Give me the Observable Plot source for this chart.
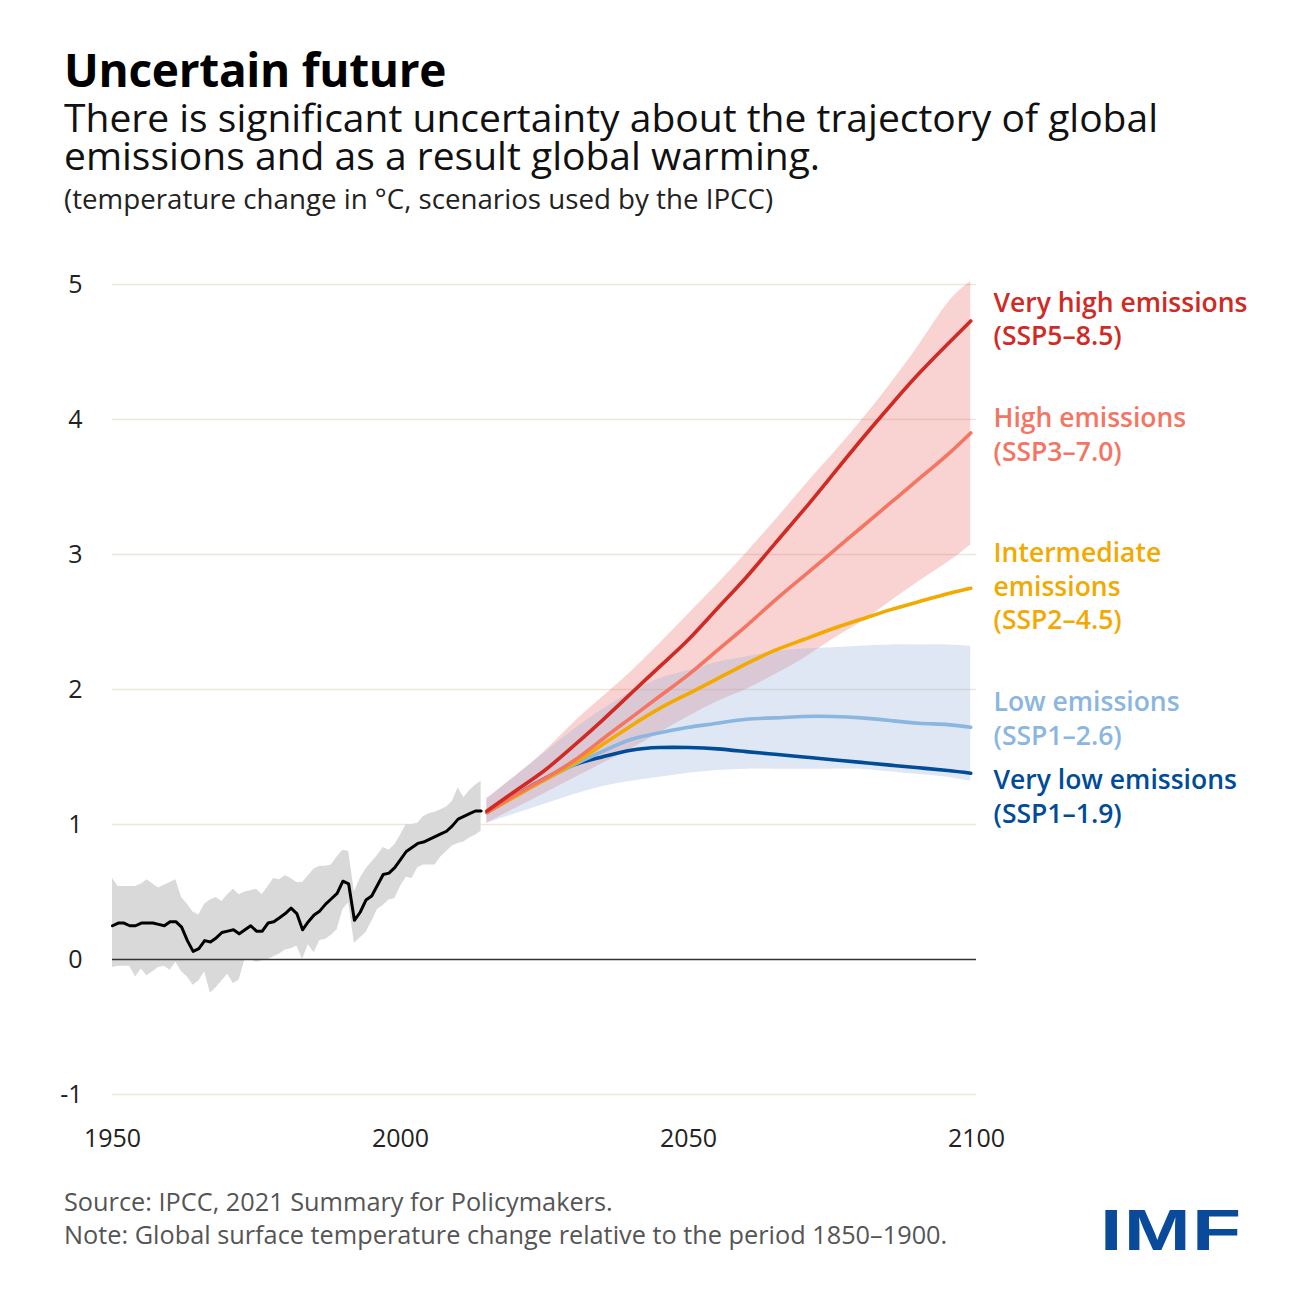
<!DOCTYPE html>
<html>
<head>
<meta charset="utf-8">
<script src="https://cdn.jsdelivr.net/npm/d3@7"></script>
<script src="https://cdn.jsdelivr.net/npm/@observablehq/plot@0.6"></script>
<style>
  body { margin: 0; background: #fff; font-family: "Open Sans", Lato, sans-serif; color: #111; }
  #page { position: relative; width: 1300px; height: 1300px; overflow: hidden; background: #fff; }
  #title { position: absolute; left: 64px; top: 46px; font-size: 46px; font-weight: 700; line-height: 46px; color: #000; white-space: nowrap; letter-spacing: -0.3px; }
  #subtitle { position: absolute; left: 64px; top: 98px; font-size: 39px; line-height: 38px; color: #111; white-space: nowrap; }
  #unit { position: absolute; left: 64px; top: 183px; font-size: 27.7px; line-height: 30px; color: #222; white-space: nowrap; }
  #chart { position: absolute; left: 0; top: 240px; }
  #foot { position: absolute; left: 64px; top: 1185px; font-size: 25.3px; line-height: 33px; color: #555; white-space: nowrap; }
  #logo { position: absolute; left: 1100px; top: 1200px; font-family: "Liberation Sans", Arial, sans-serif; font-weight: 700; font-size: 57px; line-height: 60px; color: #0a4a9b; transform: scaleX(1.41); transform-origin: left top; letter-spacing: 1px; }
</style>
</head>
<body>
<div id="page">
  <div id="title">Uncertain future</div>
  <div id="subtitle">There is significant uncertainty about the trajectory of global<br>emissions and as a result global warming.</div>
  <div id="unit">(temperature change in °C, scenarios used by the IPCC)</div>
  <div id="chart"></div>
  <div id="foot">Source: IPCC, 2021 Summary for Policymakers.<br>Note: Global surface temperature change relative to the period 1850–1900.</div>
  <div id="logo">IMF</div>
</div>
<script>
// ---------- data ----------
const histYears = d3.range(1950, 2015);
const histMean = [
  0.25,0.27,0.27,0.25,0.25,0.27,0.27,0.27,0.26,0.25,
  0.28,0.28,0.24,0.14,0.06,0.08,0.14,0.13,0.16,0.20,
  0.21,0.22,0.19,0.22,0.25,0.21,0.21,0.27,0.28,0.31,
  0.34,0.38,0.34,0.22,0.28,0.33,0.36,0.41,0.45,0.49,
  0.58,0.56,0.29,0.35,0.44,0.47,0.55,0.63,0.64,0.68,
  0.74,0.80,0.83,0.86,0.87,0.89,0.91,0.93,0.95,0.99,
  1.04,1.06,1.08,1.10,1.10
];
const histHigh = [
  0.60,0.54,0.54,0.54,0.54,0.56,0.59,0.56,0.53,0.55,
  0.57,0.59,0.46,0.41,0.35,0.33,0.41,0.44,0.46,0.43,
  0.48,0.52,0.48,0.50,0.51,0.52,0.48,0.54,0.60,0.59,
  0.62,0.60,0.57,0.57,0.62,0.67,0.69,0.69,0.70,0.76,
  0.81,0.80,0.50,0.60,0.67,0.72,0.77,0.83,0.81,0.85,
  0.92,1.00,1.00,1.01,1.06,1.08,1.09,1.11,1.13,1.17,
  1.27,1.20,1.25,1.29,1.32
];
const histLow = [
  -0.06,-0.05,-0.05,-0.05,-0.13,-0.07,-0.12,-0.09,-0.06,-0.05,
  -0.08,-0.02,-0.09,-0.13,-0.19,-0.16,-0.09,-0.25,-0.21,-0.16,
  -0.11,-0.18,-0.15,0.00,0.00,-0.02,-0.01,0.00,0.02,0.04,
  0.07,0.08,0.10,0.00,0.11,0.05,0.14,0.15,0.18,0.22,
  0.37,0.42,0.12,0.16,0.20,0.28,0.37,0.40,0.44,0.45,
  0.54,0.61,0.60,0.68,0.70,0.70,0.70,0.76,0.80,0.84,
  0.86,0.87,0.90,0.92,0.95
];

const futYears = [2015,2020,2025,2030,2035,2040,2045,2050,2055,2060,2065,2070,2075,2080,2085,2090,2095,2099];
const veryHigh     = [1.10,1.25,1.40,1.58,1.77,1.97,2.17,2.37,2.60,2.83,3.08,3.33,3.59,3.85,4.10,4.34,4.56,4.73];
const high         = [1.09,1.22,1.34,1.47,1.63,1.79,1.95,2.11,2.29,2.47,2.66,2.84,3.02,3.20,3.38,3.56,3.74,3.90];
const intermediate = [1.09,1.21,1.33,1.45,1.59,1.73,1.86,1.97,2.08,2.19,2.29,2.37,2.45,2.52,2.59,2.65,2.71,2.75];
const low          = [1.09,1.21,1.33,1.44,1.54,1.63,1.68,1.72,1.75,1.78,1.79,1.80,1.80,1.79,1.77,1.75,1.74,1.72];
const veryLow      = [1.09,1.22,1.34,1.44,1.50,1.55,1.57,1.57,1.56,1.54,1.52,1.50,1.48,1.46,1.44,1.42,1.40,1.38];
const redBandHigh  = [1.19,1.36,1.54,1.75,1.94,2.13,2.34,2.56,2.78,3.01,3.25,3.50,3.74,3.99,4.26,4.55,4.86,5.02];
const redBandLow   = [1.01,1.12,1.23,1.34,1.45,1.56,1.68,1.80,1.91,2.00,2.11,2.23,2.37,2.50,2.65,2.80,2.94,3.07];
const blueBandHigh = [1.19,1.36,1.53,1.70,1.85,1.98,2.08,2.14,2.20,2.24,2.28,2.30,2.31,2.32,2.33,2.33,2.33,2.32];
const blueBandLow  = [1.01,1.08,1.15,1.22,1.28,1.32,1.35,1.38,1.40,1.41,1.41,1.41,1.41,1.41,1.39,1.37,1.35,1.32];

const xTicks = [1950, 2000, 2050, 2100];
const yTicks = [-1, 0, 1, 2, 3, 4, 5];

const scenarios = [
  {name: "Very low emissions", values: veryLow, color: "#004c97", label: "Very low emissions\n(SSP1–1.9)", dy: 22},
  {name: "Low emissions", values: low, color: "#8ab6df", label: "Low emissions\n(SSP1–2.6)", dy: -10},
  {name: "Intermediate emissions", values: intermediate, color: "#f2a900", label: "Intermediate\nemissions\n(SSP2–4.5)", dy: -3},
  {name: "High emissions", values: high, color: "#f47562", label: "High emissions\n(SSP3–7.0)", dy: 0},
  {name: "Very high emissions", values: veryHigh, color: "#d02a24", label: "Very high emissions\n(SSP5–8.5)", dy: -3}
];

// ---------- tables ----------
const hist = histYears.map((year, i) => ({year, mean: histMean[i], low: histLow[i], high: histHigh[i]}));
const bands = futYears.map((year, i) => ({year, redLow: redBandLow[i], redHigh: redBandHigh[i], blueLow: blueBandLow[i], blueHigh: blueBandHigh[i]}));

const marks = [
  Plot.ruleY(yTicks.filter(d => d !== 0), {stroke: "#ebe7da", strokeWidth: 1.6}),
  Plot.areaY(hist, {x: "year", y1: "low", y2: "high", fill: "#d9d9d9"}),
  Plot.areaY(bands, {x: "year", y1: "redLow", y2: "redHigh", fill: "#ea5a5a", fillOpacity: 0.27, curve: "natural"}),
  Plot.areaY(bands, {x: "year", y1: "blueLow", y2: "blueHigh", fill: "#9db3dd", fillOpacity: 0.32, curve: "natural"}),
  Plot.ruleY([0], {stroke: "#333", strokeWidth: 1.5}),
  Plot.line(hist, {x: "year", y: "mean", stroke: "#000", strokeWidth: 3, strokeLinejoin: "round"})
];
for (const s of scenarios) {
  const rows = futYears.map((year, i) => ({year, value: s.values[i]}));
  marks.push(Plot.line(rows, {x: "year", y: "value", stroke: s.color, strokeWidth: 3.6, curve: "natural", strokeLinecap: "round"}));
}
for (const s of scenarios) {
  const end = [{x: 2100, y: s.values[s.values.length - 1], text: s.label}];
  marks.push(Plot.text(end, {x: "x", y: "y", text: "text", fill: s.color, textAnchor: "start", lineAnchor: "middle",
    dx: 17, dy: s.dy, fontSize: 26.5, fontWeight: 600, lineHeight: 1.265}));
}

const chart = Plot.plot({
  width: 1300,
  height: 940,
  marginLeft: 112,
  marginRight: 324,
  marginTop: 44,
  marginBottom: 86,
  x: {domain: [1950, 2100], ticks: xTicks, tickFormat: d => String(d), tickSize: 0, tickPadding: 35, label: null},
  y: {domain: [-1, 5], ticks: yTicks, tickFormat: d => String(d), tickSize: 0, tickPadding: 30, label: null},
  style: {fontFamily: "'Open Sans', Lato, sans-serif", fontSize: "25px", color: "#222", background: "#fff", overflow: "visible"},
  marks
});
document.getElementById("chart").appendChild(chart);
</script>
</body>
</html>
